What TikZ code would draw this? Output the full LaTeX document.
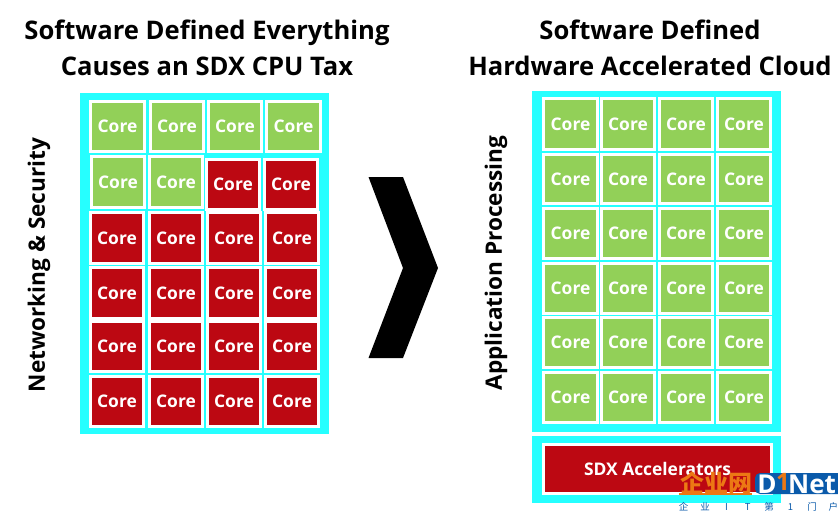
\documentclass[tikz,border=0pt]{standalone}
\usepackage{fontspec}
\setmainfont{Open Sans}
\newfontfamily\cjk{Noto Sans CJK SC}
\definecolor{cyanf}{RGB}{38,255,255}
\definecolor{gcore}{RGB}{146,208,88}
\definecolor{rcore}{RGB}{188,8,18}
\definecolor{logoblue}{RGB}{10,90,170}
\definecolor{logoorange}{RGB}{236,120,20}
\tikzset{
 corebox/.style={draw=white,line width=3pt,inner sep=0pt,text=white,font=\fontsize{17.4}{18}\selectfont\bfseries},
 greencore/.style={corebox,fill=gcore},
 redcore/.style={corebox,fill=rcore},
 title/.style={font=\fontsize{25.6}{26}\selectfont\bfseries,text=black,inner sep=0pt,anchor=base},
 sidelabel/.style={font=\fontsize{22.6}{23}\selectfont\bfseries,text=black,rotate=90,inner sep=0pt},
}
\newcommand{\corecell}[6]{% name style x0 y0 x1 y1
 \node[#2,minimum width=#5pt-#3pt+3pt,minimum height=#6pt-#4pt+3pt,anchor=center] (#1) at ({(#3+#5)/2},{(#4+#6)/2}) {Core};}
\newcommand{\wm}[1]{\makebox[21.4pt]{#1}}
\begin{document}
\begin{tikzpicture}[x=1pt,y=-1pt]
\useasboundingbox (0,0) rectangle (838,512);
% frames
\fill[cyanf] (80,93) rectangle (329,434);
\fill[cyanf] (532,91) rectangle (781,432);
\fill[cyanf] (532,436) rectangle (781,503);
% titles
\node[title] (t1) at (207,39) {Software Defined Everything};
\node[title] (t2) at (207,75) {Causes an SDX CPU Tax};
\node[title] (t3) at (650,39) {Software Defined};
\node[title] (t4) at (650,75) {Hardware Accelerated Cloud};
\node[sidelabel] (s1) at (39,265) {Networking \& Security};
\node[sidelabel] (s2) at (496,263) {Application Processing};
% left cores
\corecell{a1}{greencore}{92}{103}{143}{150}
\corecell{a2}{greencore}{152}{103}{202}{150}
\corecell{a3}{greencore}{210}{103}{260}{150}
\corecell{a4}{greencore}{268}{103}{319}{150}
\corecell{b1}{greencore}{93}{158}{143}{206}
\corecell{b2}{greencore}{151}{158}{201}{206}
\corecell{b3}{redcore}{208}{161}{258}{208}
\corecell{b4}{redcore}{266}{161}{316}{208}
\foreach \r/\ya/\yb in {c/214/262,d/269/317,e/323/370,f/378/425}{
 \corecell{\r1}{redcore}{92}{\ya}{142}{\yb}
 \corecell{\r2}{redcore}{151}{\ya}{201}{\yb}
 \corecell{\r3}{redcore}{209}{\ya}{259}{\yb}
 \corecell{\r4}{redcore}{267}{\ya}{317}{\yb}
}
% right cores
\foreach \r/\ya/\yb in {g/100/148,h/156/202,i/210/257,j/265/312,k/319/366,l/374/421}{
 \corecell{\r1}{greencore}{545}{\ya}{596}{\yb}
 \corecell{\r2}{greencore}{603}{\ya}{653}{\yb}
 \corecell{\r3}{greencore}{661}{\ya}{711}{\yb}
 \corecell{\r4}{greencore}{719}{\ya}{769}{\yb}
}
\node[corebox,fill=rcore,minimum width=228pt,minimum height=49pt] (sdx) at (657.5,469) {SDX Accelerators};
% chevron
\fill[black] (368.5,177) -- (403,177) -- (438,268) -- (403,358) -- (368.5,358) -- (403,268) -- cycle;
% watermark
\fill[logoorange] (679,493) rectangle (752,495);
\node[font=\cjk\fontsize{24}{24}\selectfont\bfseries,text=logoorange,inner sep=0pt] (w1) at (716,483) {企业网};
\fill[logoblue,rounded corners=5pt] (755,473) rectangle (845,494);
\node[font=\fontsize{26}{26}\selectfont\bfseries,text=white,inner sep=0pt,anchor=base] (w2) at (767,493) {D};
\node[font=\fontsize{24}{24}\selectfont\bfseries,text=logoorange,inner sep=0pt,anchor=base] (w4) at (783,490) {1};
\node[font=\fontsize{26}{26}\selectfont\bfseries,text=white,inner sep=0pt,anchor=base] (w5) at (812,493) {Net};
\node[font=\cjk\fontsize{9.5}{10}\selectfont,text=logoblue,inner sep=0pt] (w3) at (758.5,507) {\wm{企}\wm{业}\wm{I}\wm{T}\wm{第}\wm{1}\wm{门}\wm{户}};
\end{tikzpicture}
\end{document}
